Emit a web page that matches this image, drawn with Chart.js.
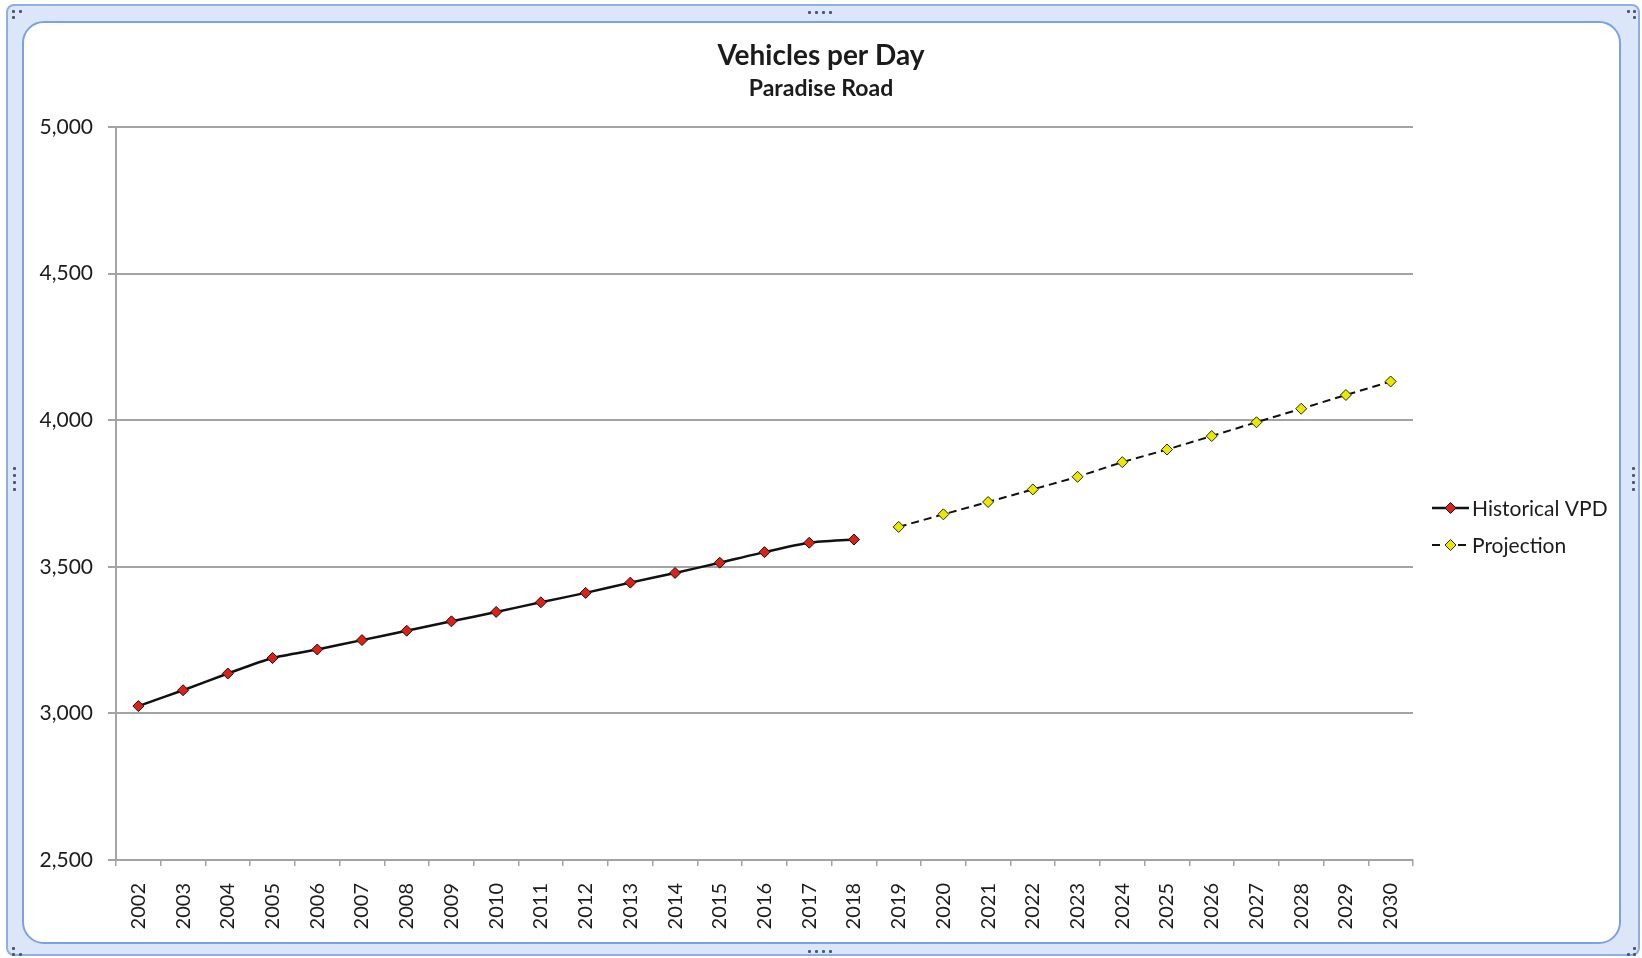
<!DOCTYPE html>
<html>
<head>
<meta charset="utf-8">
<script src="https://cdn.jsdelivr.net/npm/chart.js@4.4.1/dist/chart.umd.min.js"></script>
<style>
  html, body { margin: 0; padding: 0; background: #ffffff; overflow: hidden; }
  #outer {
    position: absolute; left: 6px; top: 4px; width: 1630px; height: 948px;
    border: 2px solid #8eaee6; border-radius: 8px; background: #dbe7f8;
  }
  #inner {
    position: absolute; left: 22px; top: 21px; width: 1595px; height: 919px;
    border: 2px solid #7f9fe4; border-radius: 22px; background: #ffffff;
  }
  .grip { position: absolute; background: #4a5878; width: 3px; height: 3px; border-radius: 1px; }
  #chart { position: absolute; left: 0; top: 0; }
</style>
</head>
<body>
<div id="outer"></div>
<div id="inner"></div>
<div id="grips"></div>
<canvas id="chart" width="1642" height="958"></canvas>
<script>
// Dados do gráfico
const anos = ['2002', '2003', '2004', '2005', '2006', '2007', '2008', '2009', '2010',
    '2011', '2012', '2013', '2014', '2015', '2016', '2017', '2018', '2019', '2020',
    '2021', '2022', '2023', '2024', '2025', '2026', '2027', '2028', '2029', '2030'];
const historico = [3025, 3079, 3136, 3189, 3218, 3250, 3282, 3314, 3346, 3379, 3411,
    3446, 3479, 3514, 3550, 3582, 3593];
const projecao = [3636, 3679, 3721, 3764, 3807, 3857, 3900, 3946, 3993, 4039, 4086, 4132];
const nomesSeries = ['Historical VPD', 'Projection'];
const tituloTexto = 'Vehicles per Day';
const subtituloTexto = 'Paradise Road';

const fonte = 'Lato';
const corTexto = '#1b1b1b';
const corGrade = '#a3a3a3';

// Pontinhos das alças da moldura
const grips = document.getElementById('grips');
function ponto(x, y) {
    const d = document.createElement('div');
    d.className = 'grip';
    d.style.left = x + 'px';
    d.style.top = y + 'px';
    grips.appendChild(d);
}
[0, 1, 2, 3].forEach(k => {
    ponto(808 + k * 7, 11);
    ponto(808 + k * 7, 950);
    ponto(13, 467 + k * 7);
    ponto(1632, 467 + k * 7);
});
ponto(12, 10); ponto(19, 10); ponto(12, 16);
ponto(1627, 10); ponto(1633, 10); ponto(1633, 16);
ponto(12, 947); ponto(12, 953); ponto(19, 953);
ponto(1633, 947); ponto(1633, 953); ponto(1627, 953);

// Completa as séries com null para alinhar com os anos
const dadosHist = anos.map((a, i) => i < historico.length ? historico[i] : null);
const dadosProj = anos.map((a, i) => {
    const j = i - historico.length;
    return j >= 0 ? projecao[j] : null;
});

// Legenda desenhada à mão: linha + marcador + texto
const legendaPlugin = {
    id: 'legendaLateral',
    afterDraw(chart) {
        const ctx = chart.ctx;
        const x0 = 1432, x1 = 1469, ys = [508, 545];
        chart.data.datasets.forEach((ds, i) => {
            const y = ys[i];
            const cx = (x0 + x1) / 2;
            const r = ds.pointRadius;
            ctx.save();
            ctx.strokeStyle = ds.borderColor;
            ctx.lineWidth = ds.borderWidth;
            ctx.setLineDash(ds.borderDash || []);
            ctx.beginPath();
            ctx.moveTo(x0, y);
            ctx.lineTo(x1, y);
            ctx.stroke();
            ctx.setLineDash([]);
            ctx.fillStyle = ds.pointBackgroundColor;
            ctx.strokeStyle = ds.pointBorderColor;
            ctx.lineWidth = ds.pointBorderWidth;
            ctx.beginPath();
            ctx.moveTo(cx, y - r); ctx.lineTo(cx + r, y); ctx.lineTo(cx, y + r); ctx.lineTo(cx - r, y);
            ctx.closePath();
            ctx.fill();
            ctx.stroke();
            ctx.fillStyle = corTexto;
            ctx.font = '21px ' + fonte;
            ctx.textBaseline = 'middle';
            ctx.textAlign = 'left';
            ctx.fillText(ds.label, x1 + 3, y + 1);
            ctx.restore();
        });
    }
};

const ctx = document.getElementById('chart').getContext('2d');

const grafico = new Chart(ctx, {
    type: 'line',
    data: {
        labels: anos,
        datasets: [{
            label: nomesSeries[0],
            data: dadosHist,
            borderColor: '#111111',
            borderWidth: 2.5,
            tension: 0.25,
            pointStyle: 'rectRot',
            pointRadius: 5.5,
            pointBackgroundColor: '#d8231a',
            pointBorderColor: '#2a0a08',
            pointBorderWidth: 1,
            yAxisID: 'y'
        }, {
            label: nomesSeries[1],
            data: dadosProj,
            borderColor: '#111111',
            borderWidth: 2,
            borderDash: [8, 5],
            tension: 0,
            pointStyle: 'rectRot',
            pointRadius: 5.5,
            pointBackgroundColor: '#e8e800',
            pointBorderColor: '#2a2a00',
            pointBorderWidth: 1,
            yAxisID: 'y'
        }]
    },
    options: {
        responsive: false,
        animation: false,
        layout: {
            padding: { left: 0, right: 0, top: 0, bottom: 0 }
        },
        plugins: {
            legend: { display: false },
            tooltip: { enabled: false },
            title: {
                display: true,
                text: tituloTexto,
                color: corTexto,
                font: { family: fonte, size: 28, weight: 'bold', lineHeight: 1.2 },
                padding: { top: 39.2, bottom: 0 }
            },
            subtitle: {
                display: true,
                text: subtituloTexto,
                color: corTexto,
                font: { family: fonte, size: 23, weight: 'bold', lineHeight: 1.2 },
                padding: { top: 2.4, bottom: 24.2 }
            }
        },
        scales: {
            x: {
                offset: true,
                grid: {
                    offset: true,
                    drawOnChartArea: false,
                    drawTicks: true,
                    tickLength: 6,
                    color: corGrade,
                    lineWidth: 1.5
                },
                border: { color: corGrade, width: 2 },
                ticks: {
                    minRotation: 90,
                    maxRotation: 90,
                    autoSkip: false,
                    padding: 17,
                    color: corTexto,
                    font: { family: fonte, size: 20 }
                },
                afterFit(escala) { escala.height = 98; }
            },
            y: {
                min: 2500,
                max: 5000,
                grid: {
                    color: corGrade,
                    lineWidth: 2,
                    tickLength: 8
                },
                border: { color: corGrade, width: 2 },
                ticks: {
                    stepSize: 500,
                    padding: 15,
                    color: corTexto,
                    font: { family: fonte, size: 21 }
                },
                afterFit(escala) { escala.width = 116; }
            },
            // eixo vazio à direita só para reservar espaço da legenda
            espacoLegenda: {
                type: 'linear',
                position: 'right',
                display: true,
                grid: { display: false, drawTicks: false },
                border: { display: false },
                ticks: { display: false },
                afterFit(escala) { escala.width = 229; }
            }
        }
    },
    plugins: [legendaPlugin]
});
</script>
</body>
</html>
